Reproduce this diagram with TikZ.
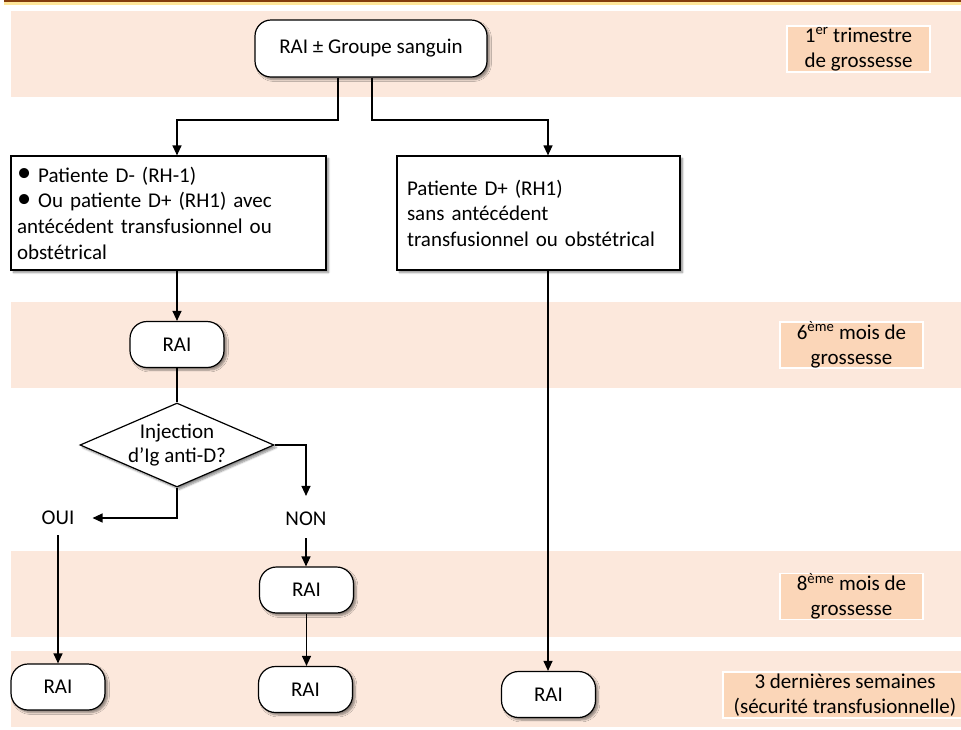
\documentclass[tikz,border=0pt]{standalone}
\usepackage{fontspec}
\setmainfont{Carlito}
\usetikzlibrary{shapes.geometric,arrows.meta,shadows.blur,calc}
\definecolor{bandfill}{HTML}{FCE8DC}
\definecolor{tagfill}{HTML}{FBD6B8}
\definecolor{barbrown}{HTML}{843C0C}
\definecolor{baryellow}{HTML}{FFE699}
\newcommand{\bul}{\raisebox{0.5pt}{\scalebox{1.35}{\textbullet}}}
\begin{document}
\begin{tikzpicture}[x=1pt,y=-1pt,
  font=\fontsize{21}{25.6}\selectfont,
  every node/.style={inner sep=0pt},
  softshadow/.style={blur shadow={shadow xshift=2.5pt,shadow yshift=-2.5pt,shadow opacity=45,shadow blur steps=6}},
  stepbox/.style={rectangle,draw=black,line width=1.2pt,fill=white,softshadow,
    align=left,inner xsep=6pt},
  pill/.style={rectangle,rounded corners=17pt,draw=black,line width=1.2pt,fill=white,softshadow,
    minimum width=94pt,minimum height=46pt},
  decision/.style={diamond,draw=black,line width=1.2pt,fill=white,softshadow,
    minimum width=194pt,minimum height=84pt,inner sep=0pt},
  tag/.style={rectangle,fill=tagfill,draw=white,line width=1.2pt,align=center,
    minimum height=46pt,font=\fontsize{21}{25}\selectfont},
  band/.style={fill=bandfill,draw=none},
  link/.style={line width=1.2pt,draw=black},
  arr/.style={link,-{Triangle[length=10pt,width=9pt]}}
]
\useasboundingbox (0,0) rectangle (961,729);

% header rule
\fill[barbrown] (4,0) rectangle (961,2);
\fill[baryellow] (4,2) rectangle (961,5);

% period bands
\fill[band] (11,11) rectangle (961,97);
\fill[band] (11,302) rectangle (961,388);
\fill[band] (11,551) rectangle (961,637);
\fill[band] (11,651) rectangle (961,727);

% period labels
\node[tag,minimum width=143pt] (t1) at (858.5,49) {1\textsuperscript{er} trimestre\\de grossesse};
\node[tag,minimum width=143pt] (t2) at (851.5,345) {6\textsuperscript{ème} mois de\\grossesse};
\node[tag,minimum width=143pt] (t3) at (851.5,596.5) {8\textsuperscript{ème} mois de\\grossesse};
\node[tag,minimum width=244pt] (t4) at (845,695) {3 dernières semaines\\(sécurité transfusionnelle)};

% flowchart nodes
\node[pill,rounded corners=16pt,minimum width=232pt,minimum height=57pt] (start) at (371,48.5) {RAI ± Groupe sanguin};

\node[stepbox,minimum width=315pt,minimum height=114pt,text width=303pt] (box1) at (168.5,213)
  {\bul{} Patiente D- (RH-1)\\\bul{} Ou patiente D+ (RH1) avec\\antécédent transfusionnel ou\\obstétrical};
\node[stepbox,minimum width=283pt,minimum height=114pt,text width=263pt,inner xsep=10pt] (box2) at (538.5,213)
  {Patiente D+ (RH1)\\sans antécédent\\transfusionnel ou obstétrical};

\node[pill] (rai2) at (177,344.5) {RAI};
\node[decision] (dia) at (177,445) {};
\node[align=center,font=\fontsize{21}{23.5}\selectfont] (diatxt) at (dia) {Injection\\d’Ig anti-D?};

\node (oui) at (58,518) {OUI};
\node (non) at (306,519) {NON};

\node[pill] (rai3) at (306.5,590) {RAI};
\node[pill] (rai4) at (58,687) {RAI};
\node[pill] (rai5) at (305.5,689.5) {RAI};
\node[pill] (rai6) at (548.5,694.5) {RAI};

% junction points below the first box
\coordinate (j1) at (177,120);
\coordinate (j2) at (548,120);

% connectors
\draw[arr] ([xshift=-33pt]start.south) |- (j1) -- (j1 |- box1.north);
\draw[arr] ([xshift=1pt]start.south) |- (j2) -- (j2 |- box2.north);
\draw[arr] (rai2.north |- box1.south) -- (rai2.north);
\draw[link] (rai2.south) -- (dia.north);
\draw[arr,shorten >=16pt] (dia.east) -| (non.north);
\draw[arr,shorten >=18pt] (dia.south) |- (oui.east);
\draw[arr,shorten <=10pt] (oui.south) -- (oui.south |- rai4.north);
\draw[arr,shorten <=12pt] (non.south) -- (non.south |- rai3.north);
\draw[arr] (rai3.south) -- (rai3.south |- rai5.north);
\draw[arr] (j2 |- box2.south) -- (j2 |- rai6.north);
\end{tikzpicture}
\end{document}
